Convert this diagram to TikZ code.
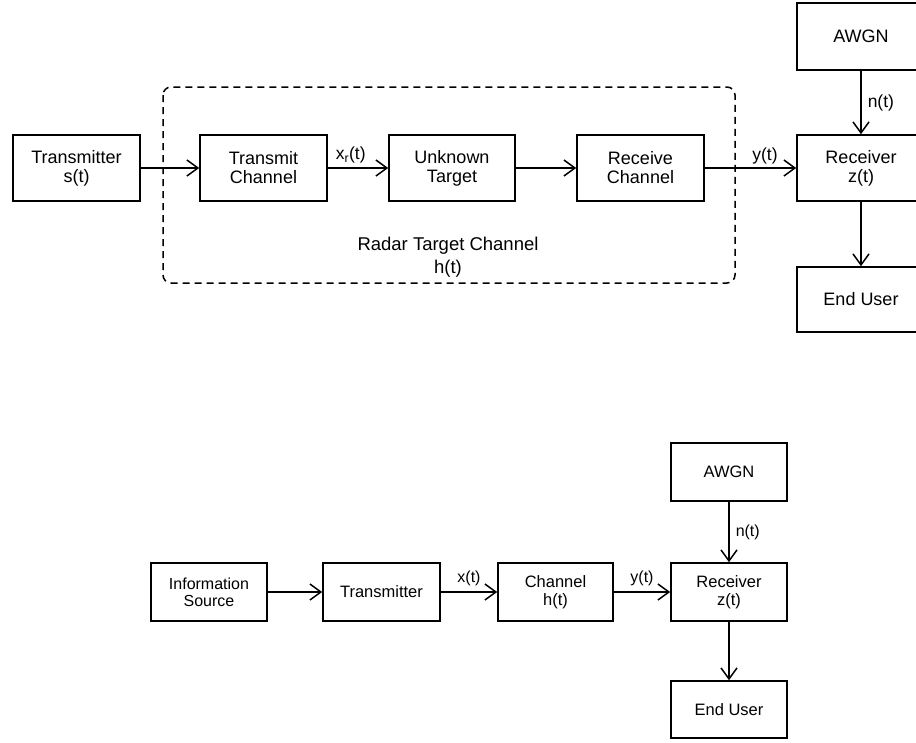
\documentclass[tikz,border=0pt]{standalone}
\usepackage{fontspec}
\setmainfont{Liberation Sans}
\usetikzlibrary{arrows.meta}
\begin{document}
\begin{tikzpicture}[x=1pt,y=-1pt,
  blk/.style={draw,line width=1.6pt,minimum width=#1,inner sep=0pt,align=center,font=\fontsize{18}{19}\selectfont},
  blk/.default=127pt,
  blkb/.style={draw,line width=1.6pt,minimum width=#1,minimum height=58pt,inner sep=0pt,align=center,font=\fontsize{16.5}{17.5}\selectfont},
  blkb/.default=116pt,
  conn/.style={line width=1.5pt,-{Straight Barb[length=11pt,width=16pt,line width=1.5pt]}},
  lbl/.style={inner sep=0pt,font=\fontsize{17.5}{17}\selectfont},
  lblb/.style={inner sep=0pt,font=\fontsize{16}{16}\selectfont}]
\useasboundingbox (0,0) rectangle (916,742);
% ---------- top diagram ----------
\node[blk=127pt,minimum height=66pt] (tx) at (76.5,168) {Transmitter\\s(t)};
\node[blk=127pt,minimum height=66pt] (tc) at (263.5,168) {Transmit\\Channel};
\node[blk=126pt,minimum height=66pt] (ut) at (452,168) {Unknown\\Target};
\node[blk=127pt,minimum height=66pt] (rc) at (640.5,168) {Receive\\Channel};
\node[blk=128pt,minimum height=66pt] (rx) at (861,168) {Receiver\\z(t)};
\node[blk=128pt,minimum height=67pt] (awgn) at (861,36.5) {AWGN};
\node[blk=128pt,minimum height=65pt] (eu) at (861,299.5) {End User};
\draw[line width=1.5pt,dash pattern=on 7pt off 5pt,rounded corners=8pt] (163,87) rectangle (735,283);
\node[align=center,font=\fontsize{18.5}{23}\selectfont] (rtc) at (448,257) {Radar Target Channel\\h(t)};
\draw[conn] (tx) -- (tc);
\draw[conn] (tc) -- node[lbl,above=4pt,pos=0.38] {x\textsubscript{r}(t)} (ut);
\draw[conn] (ut) -- (rc);
\draw[conn] (rc) -- (rx);
\node[lbl] (ylbl) at (765,156) {y(t)};
\draw[conn] (awgn) -- node[lbl,right=6pt] {n(t)} (rx);
\draw[conn] (rx) -- (eu);
% ---------- bottom diagram ----------
\node[blkb=116pt,font=\fontsize{16}{17}\selectfont] (is) at (209,592) {Information\\Source};
\node[blkb=117pt] (tr) at (381.5,592) {Transmitter};
\node[blkb=115pt] (ch) at (555.5,592) {Channel\\h(t)};
\node[blkb=116pt] (rx2) at (729,592) {Receiver\\z(t)};
\node[blkb=116pt] (awgn2) at (729,472) {AWGN};
\node[blkb=116pt,minimum height=57pt] (eu2) at (729,709.5) {End User};
\draw[conn] (is) -- (tr);
\draw[conn] (tr) -- node[lblb,above=5pt,pos=0.5] {x(t)} (ch);
\draw[conn] (ch) -- node[lblb,above=5pt,pos=0.5] {y(t)} (rx2);
\draw[conn] (awgn2) -- node[lblb,right=6pt] {n(t)} (rx2);
\draw[conn] (rx2) -- (eu2);
\end{tikzpicture}
\end{document}
